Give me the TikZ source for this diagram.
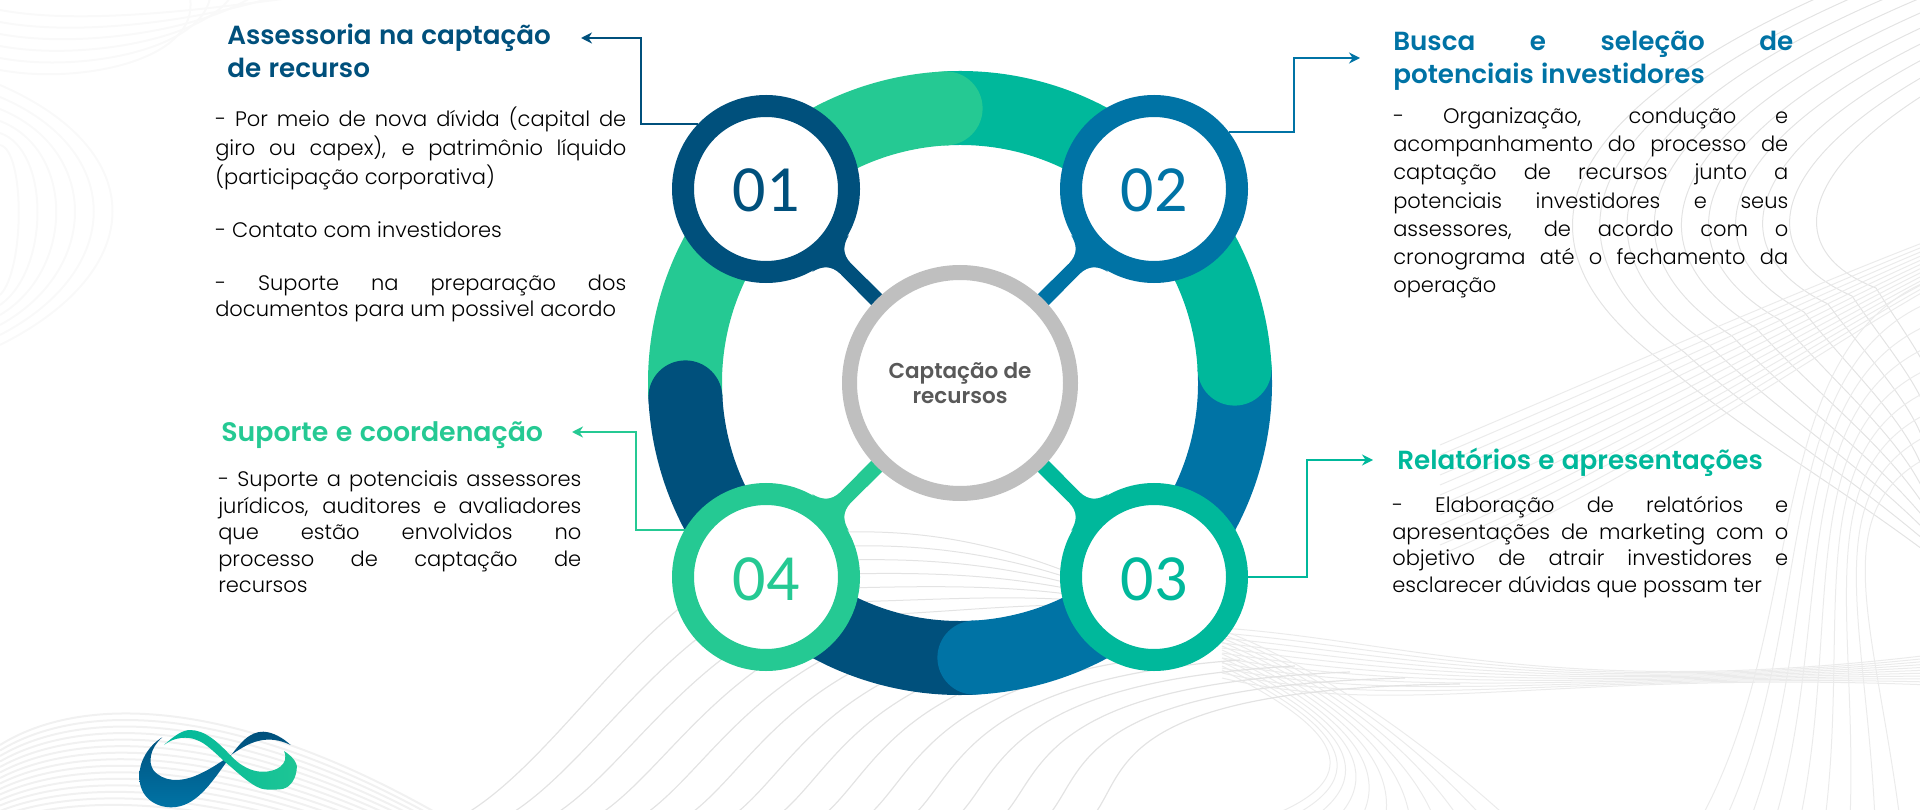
\documentclass[tikz,border=0pt]{standalone}
\usepackage{fontspec}
\setmainfont{Poppins}[UprightFont=* Light, BoldFont=* SemiBold]
\newfontfamily\numfont{Carlito}
\usetikzlibrary{arrows.meta}

\definecolor{segnavy}{HTML}{00507C}
\definecolor{segblue}{HTML}{0073A5}
\definecolor{segteal}{HTML}{00B89B}
\definecolor{seggreen}{HTML}{25C993}
\definecolor{rimgray}{HTML}{BFBFBF}
\definecolor{labelgray}{HTML}{595959}

\lineskiplimit=-\maxdimen
\newcommand{\lstrut}{\rule[-.3\baselineskip]{0pt}{\baselineskip}}
\newcommand{\jline}[1]{\hbox to\hsize{\spaceskip=.28em plus 1fil minus .08em\relax\lstrut #1}}
\newcommand{\eline}[1]{\hbox to\hsize{\spaceskip=.28em minus .08em\relax\lstrut #1\hfil}}

\begin{document}
\begin{tikzpicture}[
            x = 1pt, y = -1pt, % one unit is one pixel, y runs down
            > = {Stealth[length=11pt,width=11pt]}, % arrow head style
            semithick % line style
        ]

        \tikzstyle{numcircle}=[
            circle,
            fill = white,
            line width = 22pt,
            minimum size = 166pt,
            inner sep = 0pt,
            text height = 46pt,
            text depth = 0pt,
            font = \numfont\fontsize{66}{66}\selectfont
        ]
        \tikzstyle{hub}=[
            circle,
            draw = rimgray,
            fill = white,
            line width = 15pt,
            minimum size = 221pt,
            align = center,
            text = labelgray,
            font = \bfseries\fontsize{21.5}{25}\selectfont
        ]
        \tikzstyle{heading}=[
            anchor = north west,
            inner sep = 0pt,
            font = \bfseries\fontsize{26.2}{33}\selectfont
        ]
        \tikzstyle{bodytext}=[
            anchor = north west,
            inner sep = 0pt,
            text = black,
            font = \fontsize{21}{26.5}\selectfont
        ]
        \tikzstyle{conn}=[->, line width = 2pt]
        \tikzstyle{wave}=[gray!22, line width = 1pt]
        \tikzstyle{softwave}=[gray!11, line width = 2pt]

        \useasboundingbox (0,0) rectangle (1920,810);

        % background lines
        \foreach \i in {0,...,9}
            \draw[wave] (1835+35*\i,-10) .. controls (1560+28*\i,110) and (1500+28*\i,240) .. (1660+24*\i,360-8*\i) .. controls (1740+20*\i,430-8*\i) and (1830+15*\i,480-8*\i) .. (1930,555-10*\i);
        \foreach \i in {0,...,12}
            \draw[wave, gray!16] (1930,240+4*\i) .. controls (1800,290+6*\i) and (1640,360+10*\i) .. (1440,445+10*\i);
        \foreach \i in {0,...,8}
            \draw[wave, gray!16] (1930,280+22*\i) .. controls (1760+8*\i,350+20*\i) and (1810+8*\i,620) .. (1700+25*\i,820);
        \foreach \i in {0,...,10}
            \draw[wave, gray!16] (1222,628+5*\i) .. controls (1400,640+8*\i) and (1560,700-3*\i) .. (1930,655+3*\i);
        \foreach \i in {0,...,10}
            \draw[wave, gray!16] (1222,630+4*\i) .. controls (1300,660+5*\i) and (1400,720+5*\i) .. (1510-25*\i,820);
        \foreach \i in {0,...,14}
            \draw[wave, line width = 1.2pt] (464+45*\i,815) .. controls (540+42*\i,770) and (610+36*\i,660+2*\i) .. (690+55*\i,600+6*\i);
        \foreach \i in {0,...,6}
            \draw[wave] (845,532+14*\i) .. controls (930,530+14*\i) and (1000,545+10*\i) .. (1075,575+5*\i);
        \foreach \i in {0,...,16}
            \draw[softwave] (0,745+5.5*\i) .. controls (80,695+7*\i) and (230,695+7*\i) .. (440,815+5*\i);
        \foreach \i in {0,...,5}
            \draw[softwave, gray!5] (0,10+12*\i) .. controls (80,25+12*\i) and (200,10+10*\i) .. (290-20*\i,-2);
        \foreach \i in {0,...,5}
            \draw[softwave, gray!5] (0,85+12*\i) .. controls (150-25*\i,150) and (150-25*\i,270) .. (0,345-10*\i);

        % ring
        \coordinate (ringc) at (960,383);
        \foreach \sa/\col in {183/seggreen, 93/segteal, 3/segblue, -87/segnavy}
            \draw[\col, line width = 74pt] ([shift={(\sa:275pt)}]ringc) arc[start angle=\sa, delta angle=-90, radius=275pt];
        \foreach \sa/\col in {93/seggreen, 3/segteal, -87/segblue, 183/segnavy}
            \fill[\col] ([shift={(\sa:275pt)}]ringc) circle[radius=37pt];

        % numbered circles
        \node[numcircle, draw = segnavy, text = segnavy] (c1) at (766,189) {01};
        \node[numcircle, draw = segblue, text = segblue] (c2) at (1154,189) {02};
        \node[numcircle, draw = segteal, text = segteal] (c3) at (1154,577) {03};
        \node[numcircle, draw = seggreen, text = seggreen] (c4) at (766,577) {04};

        \foreach \cname/\sx/\sy/\col in {c1/1/1/segnavy, c2/-1/1/segblue, c3/-1/-1/segteal, c4/1/-1/seggreen}
            \fill[\col, shift={(\cname)}, xscale=\sx, yscale=\sy] (82.8,46.3) .. controls (77,56) and (76,65) .. (85,74.5) -- (118,107) -- (107,118) -- (74.5,85) .. controls (65,76) and (56,77) .. (46.3,82.8) -- (62,62) -- cycle;

        \node[hub] (hub) at (960,383) {Captação de\\recursos};

        % headings
        \node[heading, text = segnavy, text width = 400pt] (t1) at (227,21) {%
            \eline{Assessoria na captação}
            \eline{de recurso}};
        \node[heading, text = segblue, text width = 400pt] (t2) at (1393,27) {%
            \jline{Busca e seleção de}
            \eline{potenciais investidores}};
        \node[heading, text = segteal, text width = 400pt] (t3) at (1397,446) {%
            \eline{Relatórios e apresentações}};
        \node[heading, text = seggreen, text width = 340pt, font = \bfseries\fontsize{26.8}{33}\selectfont] (t4) at (221,418) {%
            \eline{Suporte e coordenação}};

        % body text
        \node[bodytext, text width = 411pt] (b1) at (215,107) {%
            \jline{- Por meio de nova dívida (capital de}
            \jline{giro ou capex), e patrimônio líquido}
            \eline{(participação corporativa)}
            \eline{}
            \eline{- Contato com investidores}
            \eline{}
            \jline{- Suporte na preparação dos}
            \eline{documentos para um possivel acordo}};
        \node[bodytext, text width = 395pt, font = \fontsize{21}{28.3}\selectfont] (b2) at (1393,103) {%
            \jline{- Organização, condução e}
            \jline{acompanhamento do processo de}
            \jline{captação de recursos junto a}
            \jline{potenciais investidores e seus}
            \jline{assessores, de acordo com o}
            \jline{cronograma até o fechamento da}
            \eline{operação}};
        \node[bodytext, text width = 396pt] (b3) at (1392,494) {%
            \jline{- Elaboração de relatórios e}
            \jline{apresentações de marketing com o}
            \jline{objetivo de atrair investidores e}
            \eline{esclarecer dúvidas que possam ter}};
        \node[bodytext, text width = 363pt] (b4) at (218,468) {%
            \jline{- Suporte a potenciais assessores}
            \jline{jurídicos, auditores e avaliadores}
            \jline{que estão envolvidos no}
            \jline{processo de captação de}
            \eline{recursos}};

        % arrows
        \coordinate (k1) at (641,38);
        \coordinate (a1) at (581,38);
        \coordinate (k2) at (1294,58);
        \coordinate (a2) at (1360,58);
        \coordinate (k3) at (1307,460);
        \coordinate (a3) at (1373,460);
        \coordinate (k4) at (636,432);
        \coordinate (a4) at (572,432);

        \draw[conn, segnavy] (c1.136) -| (k1) -- (a1);
        \draw[conn, segblue] (c2.37) -| (k2) -- (a2);
        \draw[conn, segteal] (c3.east) -| (k3) -- (a3);
        \draw[conn, seggreen] (c4.150) -| (k4) -- (a4);

        % logo
        \path[top color = segnavy, bottom color = segblue] (162.3,737.3) .. controls (148,746) and (139,762) .. (139.3,776.7) .. controls (139.5,797) and (155,807.5) .. (171.7,807.3) .. controls (195,807) and (210,785) .. (226.7,761.7) .. controls (240,742) and (250,731.5) .. (263.3,731.7) .. controls (273,732) and (283,738) .. (290.7,745) .. controls (280,740) and (270,738) .. (258,741) .. controls (238,746) and (222,765) .. (195,776) .. controls (180,782) and (163,782) .. (153.3,770) .. controls (148,762) and (150,748) .. (162.3,737.3) -- cycle;
        \path[left color = segteal, right color = seggreen!80!segteal] (164,745) .. controls (175,735) and (183,730) .. (190,730) .. controls (205,730) and (218,742) .. (232,757) .. controls (245,770) and (257,772) .. (263.3,771.7) .. controls (275,772) and (290,765) .. (284,751) .. controls (295,758) and (298,765) .. (296.7,770) .. controls (295,782) and (288,789) .. (280,789.3) .. controls (270,790) and (262,790) .. (256.7,786.7) .. controls (246,781) and (236,771) .. (226.7,763.3) .. controls (216,754) and (206,743) .. (196.7,740) .. controls (188,736) and (174,737) .. (164,745) -- cycle;

\end{tikzpicture}
\end{document}
